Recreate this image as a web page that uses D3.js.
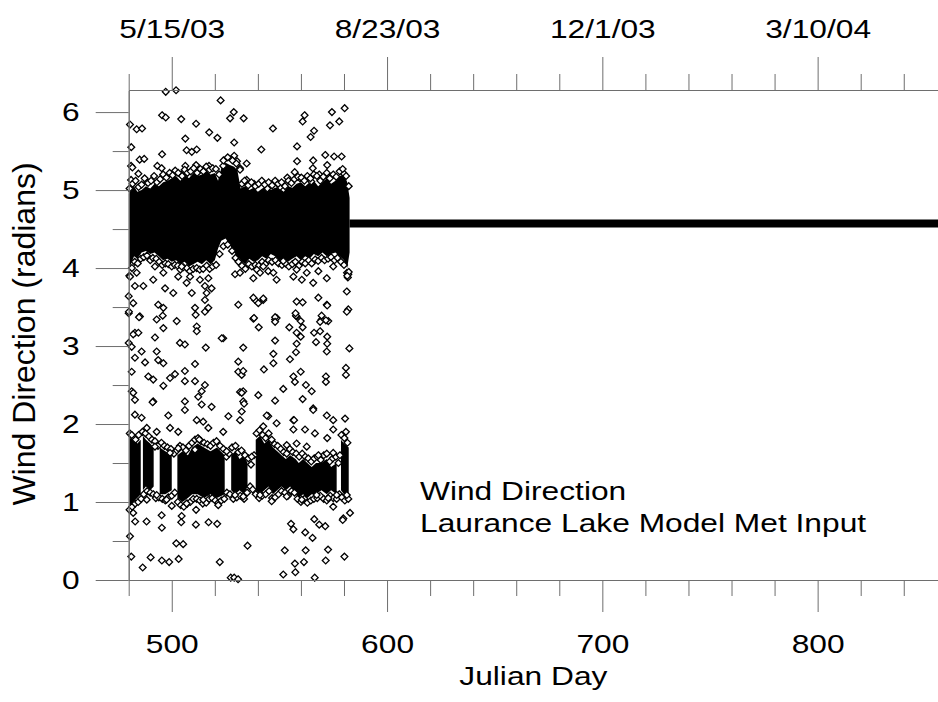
<!DOCTYPE html>
<html>
<head>
<meta charset="utf-8">
<script src="https://cdn.jsdelivr.net/npm/d3@7"></script>
<style>
  body { margin: 0; background: #fff; }
  text { font-family: "Liberation Sans", Arial, sans-serif; fill: #000; }
</style>
</head>
<body>
<div id="graph"></div>
<script>
// ticks / labels
var xMajor = [500, 600, 700, 800];
var xMinor = [480, 520, 540, 560, 580, 620, 640, 660, 680, 720, 740, 760, 780, 820, 840];
var topLabels = ["5/15/03", "8/23/03", "12/1/03", "3/10/04"];
var yMajor = [0, 1, 2, 3, 4, 5, 6];
var yMinor = [0.5, 1.5, 2.5, 3.5, 4.5, 5.5];

// dense core of the 4-5 rad band (solid black)
var coreDays = [480.1, 481, 482.5, 484, 486, 488, 490, 492, 494, 496, 498, 500, 502, 504, 506, 508, 510, 512, 514, 516, 518, 520, 521.5, 523, 525, 527, 529, 530.5, 532, 534, 536, 538, 540, 542, 544, 546, 548, 550, 552, 554, 556, 558, 560, 562, 564, 566, 568, 570, 572, 574, 576, 578, 580, 581.5, 582.6];
var coreTop = [4.95, 5.0, 5.05, 4.98, 5.0, 5.05, 5.02, 5.08, 5.05, 5.1, 5.12, 5.15, 5.18, 5.12, 5.2, 5.15, 5.22, 5.18, 5.2, 5.25, 5.2, 5.22, 5.12, 5.28, 5.35, 5.32, 5.3, 5.25, 5.02, 5.05, 5.0, 5.03, 4.98, 5.02, 5.05, 5.0, 5.03, 5.02, 4.98, 5.05, 5.03, 5.08, 5.1, 5.05, 5.1, 5.12, 5.05, 5.1, 5.15, 5.08, 5.12, 5.18, 5.2, 5.1, 4.9];
var coreBot = [3.95, 4.05, 4.15, 4.12, 4.2, 4.22, 4.18, 4.2, 4.15, 4.1, 4.12, 4.08, 4.1, 4.05, 4.08, 4.02, 4.05, 4.08, 4.05, 4.1, 4.05, 4.1, 4.25, 4.35, 4.38, 4.3, 4.2, 4.15, 4.1, 4.05, 4.12, 4.08, 4.1, 4.15, 4.12, 4.18, 4.15, 4.1, 4.12, 4.08, 4.12, 4.15, 4.1, 4.15, 4.12, 4.18, 4.15, 4.2, 4.15, 4.18, 4.2, 4.15, 4.1, 4.0, 4.2];

// dense clusters of the 1-2 rad band (null = gap)
var lowDays = [480.3, 482, 484, 485.6, 486.2, 486.6, 488, 490, 491.6, 492.5, 494.4, 497, 500, 501.2, 502.6, 505, 507.5, 509.5, 512, 515, 518, 521, 524.6, 526, 527.6, 529.5, 531.5, 533.5, 535.2, 537, 539, 541, 543, 545, 547, 549, 551, 553, 555, 557.5, 559, 561, 563, 565, 567, 569.5, 572, 574, 576.6, 577.6, 578.6, 580, 582.2];
var lowTop = [1.82, 1.8, 1.75, 1.8, null, 1.85, 1.8, 1.75, 1.7, null, 1.7, 1.65, 1.6, null, 1.6, 1.65, 1.6, 1.7, 1.75, 1.7, 1.65, 1.7, 1.6, null, 1.6, 1.65, 1.55, 1.6, 1.5, null, 1.8, 1.85, 1.75, 1.8, 1.7, 1.65, 1.6, 1.55, 1.6, 1.55, 1.5, 1.55, 1.5, 1.45, 1.5, 1.5, 1.55, 1.45, 1.5, null, 1.8, 1.75, 1.7];
var lowBot = [0.95, 1.0, 1.05, 1.1, null, 1.15, 1.2, 1.15, 1.2, null, 1.1, 1.1, 1.15, null, 1.05, 1.0, 1.05, 1.1, 1.1, 1.05, 1.1, 1.05, 1.1, null, 1.15, 1.1, 1.15, 1.1, 1.2, null, 1.15, 1.1, 1.15, 1.2, 1.1, 1.15, 1.2, 1.15, 1.2, 1.1, 1.05, 1.1, 1.05, 1.1, 1.1, 1.15, 1.1, 1.15, 1.1, null, 1.15, 1.1, 1.1];

// model input held constant after the record ends
var flatDays = [582.6, 856];
var flatDir = [4.57, 4.57];

// individual readings [julian day, radians]
var highPts = [[497.2,6.26],[502.0,6.28],[522.7,6.15],[528.8,6.00],[527.1,5.92],[533.4,5.92],[495.5,5.96],[497.2,5.93],[504.4,5.91],[511.3,5.85],[480.6,5.84],[483.7,5.78],[486.2,5.79],[547.0,5.79],[561.7,5.96],[560.8,5.88],[574.4,6.00],[580.3,6.05],[573.5,5.83],[577.8,5.88],[566.1,5.76],[564.5,5.68],[506.3,5.66],[517.4,5.74],[521.2,5.67],[529.0,5.61],[481.2,5.55],[541.6,5.52],[558.2,5.56],[495.5,5.46],[506.9,5.51],[511.6,5.52],[509.3,5.49],[529.0,5.44],[485.1,5.39],[487.2,5.40],[558.2,5.37],[571.3,5.45],[575.4,5.43],[578.9,5.43],[565.7,5.38],[481.1,5.31],
  [493.3,5.31],[506.3,5.31],[511.3,5.32],[517.3,5.31],[495.3,5.28],[484.5,5.21],[488.5,5.10],[481.1,5.13],[504.3,5.20],[523.9,5.31],[530.3,5.37],[531.7,5.28],[481.7,5.29],[534.8,5.34],[565.5,5.28],[572.2,5.32],[557.1,5.23],[559.6,5.15],[553.7,5.16],[564.8,5.11],[568.5,5.20],[572.6,5.17],[580.0,5.21],[534.8,5.13],[538.2,5.08],[544.4,5.02],[550.3,5.04],[531.7,5.26]];

// edge of the 4-5 band, above and below
var coreTopEdge = [[480.4,5.02],[481.8,5.08],[483.2,5.12],[484.6,5.04],[486.0,5.07],[487.4,5.15],[489.0,5.09],[490.4,5.12],[491.8,5.18],[493.1,5.10],[494.6,5.14],[496.0,5.20],[497.5,5.16],[499.0,5.22],[500.4,5.19],[501.6,5.25],[503.0,5.22],[504.8,5.18],[506.0,5.26],[507.3,5.22],[508.8,5.24],[510.2,5.28],[511.8,5.22],[513.3,5.27],[514.7,5.24],[516.0,5.30],[517.6,5.26],[519.0,5.28],[520.5,5.27],[522.0,5.20],[524.0,5.38],[526.0,5.42],[528.2,5.38],[530.0,5.34],[532.6,5.08],[533.8,5.12],[535.5,5.06],[537.0,5.10],[538.8,5.05],[540.4,5.08],[541.8,5.12],[543.2,5.07],[545.0,5.10],[546.6,5.06],[548.0,5.12],[549.4,5.08],[551.0,5.10],[552.6,5.05],[554.2,5.12],[555.6,5.09],[557.0,5.14],[558.6,5.17],[560.2,5.16],[561.6,5.12],[563.0,5.18],[564.4,5.15],[566.0,5.20],[567.4,5.18],[569.0,5.12],[570.4,5.17],[572.0,5.22],[573.4,5.15],[575.0,5.20],[576.4,5.17],[578.0,5.24],[579.4,5.27],[581.0,5.18],[582.2,5.05]];
var coreBotEdge = [[480.3,3.90],[481.5,4.00],[482.8,4.08],[484.2,4.06],[485.6,4.12],[487.0,4.14],[488.5,4.16],[490.0,4.10],[491.2,4.13],[492.8,4.12],[494.2,4.08],[495.6,4.04],[497.0,4.06],[498.4,4.05],[500.0,4.02],[501.4,4.04],[502.8,4.03],[504.0,3.98],[505.4,4.01],[507.0,4.00],[508.4,3.96],[510.0,3.99],[511.6,4.00],[513.0,3.98],[514.6,3.99],[516.2,4.03],[517.6,3.99],[519.0,4.02],[520.6,4.04],[522.2,4.18],[524.0,4.28],[526.0,4.30],[528.0,4.22],[529.6,4.13],[531.0,4.08],[532.6,4.03],[534.2,3.99],[535.8,4.05],[537.2,4.02],[538.8,4.04],[540.4,4.03],[542.0,4.08],[543.4,4.05],[545.0,4.10],[546.6,4.08],[548.2,4.10],[549.6,4.06],[551.2,4.04],[552.8,4.06],[554.4,4.02],[556.0,4.05],[557.4,4.08],[559.0,4.03],[560.6,4.08],[562.0,4.06],[563.6,4.10],[565.0,4.06],[566.6,4.11],[568.0,4.09],[569.6,4.13],[571.0,4.10],[572.6,4.12],[574.0,4.14],[575.6,4.10],[577.0,4.13],[578.6,4.08],[580.0,4.04],[581.4,3.94]];

var midPts = [[480.6,3.89],[483.7,3.94],[482.9,3.77],[486.8,3.77],[491.4,3.85],[492.2,4.02],[496.1,3.94],[496.9,3.74],[500.7,3.68],[503.0,3.89],[504.6,4.02],[506.9,3.81],[508.5,3.89],[509.3,3.68],[513.1,3.85],[515.4,3.77],[516.2,3.68],[517.0,3.87],[518.5,3.74],[529.4,3.92],[531.7,3.94],[537.9,3.87],[539.5,3.98],[541.0,3.94],[542.5,4.02],[544.8,3.96],[547.2,3.94],[548.7,3.85],[551.8,4.09],[556.5,3.89],[558.0,3.98],[560.4,3.85],[562.7,3.94],[565.7,3.81],[568.1,3.96],[572.0,3.87],[575.0,4.02],[582.0,3.92],[581.8,3.88],[582.2,3.95],[581.5,3.90],[581.3,3.70],[582.0,3.47],
  [530.9,3.53],[537.9,3.35],[538.7,3.59],[542.5,3.59],[548.0,3.34],[548.7,3.36],[558.0,3.57],[558.0,3.38],[568.1,3.62],[572.0,3.53],[569.6,3.34],[572.7,3.32],[581.3,3.44],[493.7,3.53],[493.0,3.34],[482.1,3.55],[480.0,3.42],[485.2,3.38],[482.9,3.17],[502.3,3.32],[510.8,3.49],[511.6,3.25],[515.4,3.44],[517.0,3.49],[511.6,3.19],[523.9,3.10],
  [480.0,3.64],[480.1,3.44],[484.8,3.37],[496.1,3.49],[495.8,3.39],[496.1,3.23],[511.1,3.40],[515.4,3.59],[482.1,3.15],[484.5,3.17],[492.2,3.11],[503.8,3.04],[506.1,3.02],[523.2,3.10],[515.8,2.98],[480.0,3.04],[481.4,2.99],[486.0,2.93],[493.0,2.93],[493.7,2.82],[496.1,2.78],[487.6,2.79],[482.9,2.85],[510.8,2.77],[530.9,2.80],[481.4,2.67],[489.1,2.61],[491.4,2.57],[499.2,2.59],[501.5,2.64],[506.1,2.68],[506.1,2.55],[496.1,2.49],[510.8,2.55],[515.4,2.50],[530.9,2.67],[532.5,2.63],[531.7,2.41],[481.4,2.42],[482.9,2.31],[491.4,2.29],[506.1,2.29],[512.3,2.35],[513.9,2.42],[513.9,2.25],[518.5,2.22],[498.4,2.11],[506.1,2.18],[511.6,2.05],[514.6,2.03],[526.3,2.10],[486.0,2.08],[482.9,2.12],[532.5,2.16],
  [537.9,3.62],[540.2,3.55],[542.5,3.61],[560.8,3.56],[572.2,3.52],[538.2,3.36],[540.4,3.24],[548.0,3.37],[548.0,3.31],[557.7,3.39],[557.5,3.42],[559.9,3.32],[554.6,3.24],[560.8,3.24],[569.6,3.39],[571.6,3.33],[568.9,3.31],[558.0,3.17],[559.9,3.12],[566.1,3.17],[568.9,3.19],[567.0,3.05],[572.2,3.12],[572.2,3.03],[572.0,2.93],[582.5,2.97],[548.0,3.07],[558.0,3.03],[557.7,2.92],[533.2,2.98],[547.2,2.90],[547.2,2.78],[554.9,2.83],[533.2,2.68],[542.8,2.70],[559.9,2.67],[556.5,2.61],[557.2,2.54],[562.3,2.50],[565.0,2.42],[560.8,2.32],[571.6,2.61],[571.6,2.54],[580.9,2.72],[580.9,2.63],[551.8,2.45],[540.2,2.37],[548.0,2.30],[533.2,2.42],[533.2,2.29],[565.7,2.20],[572.0,2.11],[575.0,2.05],[580.5,2.07],[544.8,2.10],[556.5,2.05],
  [482.1,2.40],[491.1,2.28],[532.5,2.40],[533.6,2.26],[556.8,2.05],[565.7,2.18],[544.1,2.11]];

// edge of the 1-2 band, above and below
var lowTopEdge = [[480.5,1.88],[481.8,1.84],[483.2,1.80],[484.6,1.86],[486.4,1.90],[487.8,1.88],[489.4,1.84],[490.8,1.80],[492.2,1.78],[493.6,1.72],[495.2,1.76],[496.6,1.72],[498.0,1.70],[499.6,1.68],[501.0,1.62],[502.4,1.66],[503.8,1.72],[505.2,1.70],[506.6,1.66],[508.0,1.72],[509.4,1.76],[510.8,1.80],[512.2,1.82],[513.6,1.78],[515.0,1.76],[516.6,1.74],[518.0,1.72],[519.4,1.76],[520.8,1.78],[522.4,1.72],[524.0,1.68],[525.4,1.58],[526.6,1.62],[528.0,1.70],[529.6,1.72],[531.0,1.64],[532.4,1.66],[534.0,1.60],[535.6,1.56],[536.8,1.48],[538.2,1.60],[539.4,1.88],[540.8,1.92],[542.2,1.86],[543.6,1.82],[545.0,1.88],[546.4,1.80],[547.8,1.74],[549.2,1.72],[550.6,1.68],[552.0,1.64],[553.4,1.62],[554.8,1.68],[556.2,1.64],[557.8,1.62],[559.2,1.58],[560.6,1.62],[562.0,1.58],[563.4,1.56],[564.8,1.52],[566.2,1.56],[567.6,1.58],[569.2,1.54],[570.6,1.60],[572.0,1.62],[573.4,1.52],[574.8,1.56],[576.2,1.58],[577.4,1.50],[578.8,1.86],[580.2,1.82],[581.6,1.76]];
var lowBotEdge = [[480.4,0.90],[481.6,0.94],[483.0,0.98],[484.4,1.00],[485.8,1.04],[487.0,1.10],[488.6,1.14],[490.0,1.12],[491.4,1.10],[492.6,1.05],[494.0,1.06],[495.6,1.04],[497.0,1.02],[498.4,1.06],[500.0,1.08],[501.4,1.12],[502.8,1.00],[504.2,0.96],[505.6,0.94],[507.2,0.98],[508.6,1.00],[510.0,1.04],[511.6,1.04],[513.0,1.02],[514.4,0.98],[516.0,0.99],[517.4,1.04],[518.8,1.05],[520.2,1.02],[521.6,0.99],[523.0,1.02],[524.4,1.04],[525.6,1.12],[527.0,1.10],[528.6,1.04],[530.2,1.06],[531.8,1.08],[533.6,1.04],[535.0,1.12],[536.4,1.20],[537.6,1.16],[539.0,1.10],[540.6,1.05],[542.0,1.08],[543.6,1.10],[545.2,1.14],[546.6,1.05],[548.0,1.06],[549.6,1.10],[551.0,1.14],[552.6,1.12],[554.0,1.08],[555.6,1.14],[557.0,1.12],[558.4,1.04],[560.0,1.00],[561.6,1.04],[563.0,0.99],[564.6,1.02],[566.0,1.04],[567.6,1.05],[569.0,1.08],[570.6,1.04],[572.0,1.02],[573.6,1.08],[575.0,1.05],[576.6,1.04],[577.8,1.10],[579.0,1.06],[580.4,1.02],[582.0,1.04]];

var lowPts = [[499.2,1.95],[503.0,1.90],[493.0,1.90],[517.0,1.95],[523.9,1.90],[548.7,2.01],[556.5,1.93],[561.9,1.93],[566.5,1.88],[572.2,1.82],[575.0,1.93],[580.9,1.90],[481.4,1.86],[488.4,1.95],[512.8,1.80],[531.7,2.05],[542.5,1.97],[553.4,1.73],[558.0,1.75],[562.7,1.71],[568.1,1.60],[575.0,1.63],[578.1,1.60],[499.2,1.63],[492.2,1.71],[503.0,1.69],[510.8,1.67],[525.5,1.65],[537.1,1.58],
  [482.1,0.86],[488.4,1.03],[493.0,1.09],[497.6,1.03],[506.9,0.98],[514.6,1.03],[521.6,0.96],[529.4,1.09],[533.2,1.07],[541.0,1.09],[546.4,1.01],[553.4,1.07],[560.4,1.03],[567.3,1.09],[572.7,1.05],[576.6,1.09],[581.3,1.09],
  [495.3,0.83],[500.0,0.95],[511.3,0.90],[504.6,0.82],[566.2,0.78],[575.0,0.94],[579.7,0.79],[582.8,0.86],
  [480.6,0.56],[481.2,0.30],[486.5,0.16],[490.2,0.29],[495.4,0.25],[498.8,0.23],[503.2,0.27],[502.1,0.47],[505.3,0.46],[495.4,0.67],[522.3,0.23],[535.2,0.44],[527.4,0.03],[529.0,0.03],[530.8,0.01],[551.8,0.07],[552.5,0.38],[557.4,0.10],[557.2,0.21],[561.4,0.23],[562.2,0.38],[566.4,0.03],[565.4,0.54],[562.0,0.61],[571.5,0.25],[572.6,0.39],[580.2,0.30],[571.3,0.69],[568.5,0.71],[555.4,0.72],[556.5,0.65],[511.2,0.71],[517.1,0.74],[521.1,0.72],[504.4,0.74],[483.0,0.75],[488.3,0.75],[579.4,0.77]];

var W = 938, H = 702;
var plot = {left: 128.7, right: 938.2, top: 90, bottom: 580};
var axisColor = "#6e6e6e";
var fontSize = 26, stretch = 1.22;

var x = d3.scaleLinear().domain([480, 856]).range([plot.left, plot.right]);
var y = d3.scaleLinear().domain([0, 2 * Math.PI]).range([plot.bottom, plot.top]);

var svg = d3.select("#graph").append("svg")
    .attr("width", W)
    .attr("height", H);
svg.append("rect").attr("width", W).attr("height", H).attr("fill", "#fff");

// data first, axes drawn on top
svg.append("path")
    .datum(d3.range(coreDays.length))
    .attr("fill", "#000")
    .attr("d", d3.area()
        .x(function(i) { return x(coreDays[i]); })
        .y0(function(i) { return y(coreBot[i]); })
        .y1(function(i) { return y(coreTop[i]); }));

svg.append("path")
    .datum(d3.range(lowDays.length))
    .attr("fill", "#000")
    .attr("d", d3.area()
        .defined(function(i) { return lowTop[i] != null; })
        .x(function(i) { return x(lowDays[i]); })
        .y0(function(i) { return y(lowBot[i]); })
        .y1(function(i) { return y(lowTop[i]); }));

svg.append("path")
    .datum(d3.range(flatDays.length))
    .attr("fill", "none")
    .attr("stroke", "#000")
    .attr("stroke-width", 8)
    .attr("d", d3.line()
        .x(function(i) { return x(flatDays[i]); })
        .y(function(i) { return y(flatDir[i]); }));

var diamond = "M0,-3.4L3.4,0L0,3.4L-3.4,0Z";
var allPts = highPts.concat(coreTopEdge, coreBotEdge, midPts, lowTopEdge, lowBotEdge, lowPts);
svg.append("g").selectAll("path")
    .data(allPts)
    .enter().append("path")
    .attr("d", diamond)
    .attr("transform", function(d) { return "translate(" + x(d[0]) + "," + y(d[1]) + ")"; })
    .attr("fill", "#fff")
    .attr("stroke", "#000")
    .attr("stroke-width", 1.3);

// axes
function styleAxis(g) {
  g.selectAll("path.domain").attr("stroke", axisColor);
  g.selectAll("line").attr("stroke", axisColor);
  g.selectAll("text")
    .attr("font-size", fontSize)
    .attr("font-family", "Liberation Sans, Arial, sans-serif")
    .attr("fill", "#000");
}
// widen glyphs in place (keeps the anchor where d3 put it)
function widen(g) {
  g.selectAll("text").each(function() {
    var t = d3.select(this);
    var tx = +t.attr("x") || 0;
    t.attr("x", 0).attr("transform", "translate(" + tx + ",0) scale(" + stretch + ",1)");
  });
}

var bottomMinor = svg.append("g")
    .attr("transform", "translate(0," + plot.bottom + ")")
    .call(d3.axisBottom(x).tickValues(xMinor).tickSize(16).tickSizeOuter(0).tickFormat(""));
var bottomMajor = svg.append("g")
    .attr("transform", "translate(0," + plot.bottom + ")")
    .call(d3.axisBottom(x).tickValues(xMajor).tickSize(32).tickSizeOuter(0).tickPadding(23).tickFormat(d3.format("d")));

var topMinor = svg.append("g")
    .attr("transform", "translate(0," + plot.top + ")")
    .call(d3.axisTop(x).tickValues(xMinor).tickSize(16).tickSizeOuter(0).tickFormat(""));
var topMajor = svg.append("g")
    .attr("transform", "translate(0," + plot.top + ")")
    .call(d3.axisTop(x).tickValues(xMajor).tickSize(33).tickSizeOuter(0).tickPadding(19)
      .tickFormat(function(d, i) { return topLabels[i]; }));

var leftMinor = svg.append("g")
    .attr("transform", "translate(" + plot.left + ",0)")
    .call(d3.axisLeft(y).tickValues(yMinor).tickSize(16).tickSizeOuter(0).tickFormat(""));
var leftMajor = svg.append("g")
    .attr("transform", "translate(" + plot.left + ",0)")
    .call(d3.axisLeft(y).tickValues(yMajor).tickSize(33).tickSizeOuter(0).tickPadding(16).tickFormat(d3.format("d")));

[bottomMinor, bottomMajor, topMinor, topMajor, leftMinor, leftMajor].forEach(styleAxis);
[bottomMajor, topMajor, leftMajor].forEach(widen);

// titles
svg.append("text")
    .attr("transform", "translate(" + ((plot.left + W) / 2) + ",685) scale(" + stretch + ",1)")
    .attr("text-anchor", "middle")
    .attr("font-size", fontSize)
    .text("Julian Day");

svg.append("text")
    .attr("transform", "translate(35,334) rotate(-90)")
    .attr("text-anchor", "middle")
    .attr("font-size", 32)
    .text("Wind Direction (radians)");

svg.append("text")
    .attr("transform", "translate(420,500) scale(" + stretch + ",1)")
    .attr("font-size", fontSize)
    .text("Wind Direction");
svg.append("text")
    .attr("transform", "translate(420,532) scale(" + stretch + ",1)")
    .attr("font-size", fontSize)
    .text("Laurance Lake Model Met Input");
</script>
</body>
</html>
